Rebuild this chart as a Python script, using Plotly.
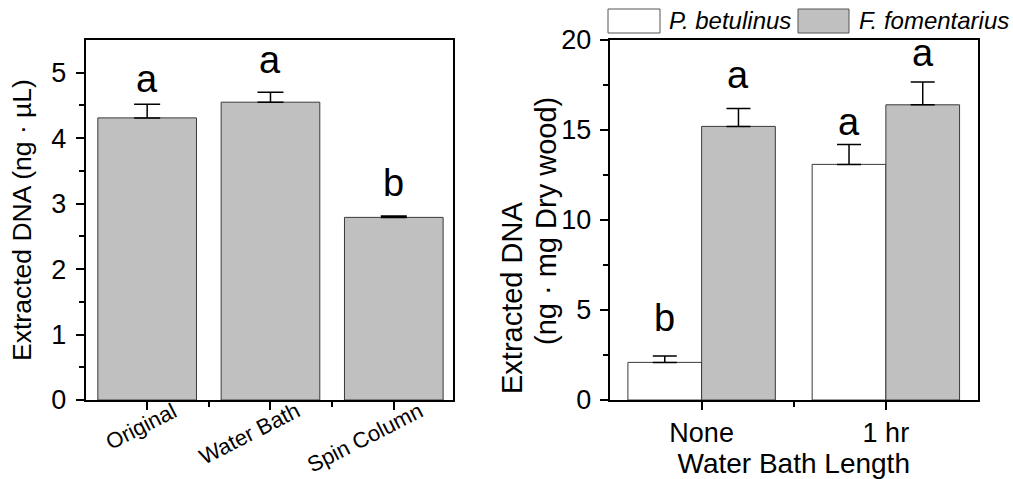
import plotly.graph_objects as go

# ---- data ----
methods = ["Original", "Water Bath", "Spin Column"]
dna_conc = [4.31, 4.55, 2.79]
dna_conc_err = [0.21, 0.15, 0.02]
conc_letters = ["a", "a", "b"]

bath_lengths = ["None", "1 hr"]
species = ["P. betulinus", "F. fomentarius"]
dna_yield = {
    "P. betulinus": [2.09, 13.09],
    "F. fomentarius": [15.2, 16.4],
}
dna_yield_err = {
    "P. betulinus": [0.35, 1.1],
    "F. fomentarius": [1.0, 1.27],
}
yield_letters = {
    "P. betulinus": ["b", "a"],
    "F. fomentarius": ["a", "a"],
}

# ---- styling ----
FONT = "Liberation Sans, Arial, sans-serif"
W, H = 1013, 479
GRAY = "#c0c0c0"
EDGE = "#3a3a3a"
fill = {"P. betulinus": "white", "F. fomentarius": GRAY}
LETTER_SIZE = 38
# pixel gap between the error cap and the significance letter
conc_gap = [11, 18, 19]
yield_gap = {"P. betulinus": [24, 9], "F. fomentarius": [19, 15]}

def px_x(p):
    return p / W

def px_y(p):
    return 1 - p / H

fig = go.Figure()

err_style = dict(type="data", symmetric=False, thickness=1.5, color="black")

# left panel: DNA concentration by extraction method
fig.add_trace(go.Bar(
    x=list(range(len(methods))), y=dna_conc,
    marker=dict(color=GRAY, line=dict(color=EDGE, width=1)),
    error_y=dict(array=dna_conc_err, arrayminus=[0] * len(methods), width=13, **err_style),
    xaxis="x", yaxis="y", showlegend=False,
))

# right panel: DNA yield by species and bath length
for sp in species:
    fig.add_trace(go.Bar(
        name=sp, x=list(range(len(bath_lengths))), y=dna_yield[sp],
        marker=dict(color=fill[sp], line=dict(color=EDGE, width=1)),
        error_y=dict(array=dna_yield_err[sp], arrayminus=[0] * len(bath_lengths), width=12, **err_style),
        xaxis="x2", yaxis="y2", offsetgroup=sp, showlegend=False,
    ))

descent = 0.212 * LETTER_SIZE + 1
annotations = []
for i, (v, e, t) in enumerate(zip(dna_conc, dna_conc_err, conc_letters)):
    annotations.append(dict(x=i, y=v + e, xref="x", yref="y", text=t, showarrow=False,
                            yanchor="bottom", yshift=conc_gap[i] - descent,
                            font=dict(family=FONT, size=LETTER_SIZE, color="black")))
offsets = {"P. betulinus": -0.2, "F. fomentarius": 0.2}
for sp in species:
    for i, (v, e, t) in enumerate(zip(dna_yield[sp], dna_yield_err[sp], yield_letters[sp])):
        annotations.append(dict(x=i + offsets[sp], y=v + e, xref="x2", yref="y2", text=t,
                                showarrow=False, yanchor="bottom", yshift=yield_gap[sp][i] - descent,
                                font=dict(family=FONT, size=LETTER_SIZE, color="black")))

# rotated method labels
for i, m in enumerate(methods):
    annotations.append(dict(x=i, y=px_y(395), xref="x", yref="paper", text=m, showarrow=False,
                            textangle=-27, xanchor="right", yanchor="top", xshift=36,
                            font=dict(family=FONT, size=22, color="black")))

# two-line y title of the right panel, one annotation per line
right_title = [("Extracted DNA", 512, 298), ("(ng · mg Dry wood)", 546, 221)]
for txt, cx, cy in right_title:
    annotations.append(dict(x=px_x(cx), y=px_y(cy), xref="paper", yref="paper", text=txt,
                            showarrow=False, textangle=-90, xanchor="center", yanchor="middle",
                            font=dict(family=FONT, size=29, color="black")))

# legend drawn above the right panel
legend_boxes = [(608, 660), (798, 849)]
legend_text_x = [667, 857]
shapes = []
for sp, (x0, x1), tx in zip(species, legend_boxes, legend_text_x):
    shapes.append(dict(type="rect", xref="paper", yref="paper",
                       x0=px_x(x0), x1=px_x(x1), y0=px_y(33), y1=px_y(9),
                       fillcolor=fill[sp], line=dict(color="#555555", width=1)))
    annotations.append(dict(x=px_x(tx), y=px_y(21), xref="paper", yref="paper",
                            text=f"<i>{sp}</i>", showarrow=False, xanchor="left", yanchor="middle",
                            font=dict(family=FONT, size=24, color="black")))

axis_common = dict(showline=True, linecolor="black", linewidth=1.5, mirror=True,
                   ticks="outside", tickcolor="black", tickwidth=1.5, ticklen=8,
                   showgrid=False, zeroline=False, automargin=False,
                   tickfont=dict(family=FONT, size=27, color="black"))

ydom = [px_y(400), px_y(40)]

fig.update_layout(
    width=W, height=H,
    margin=dict(l=0, r=0, t=0, b=0),
    paper_bgcolor="white", plot_bgcolor="white",
    barmode="group", bargap=0.2, bargroupgap=0,
    showlegend=False,
    annotations=annotations, shapes=shapes,
    xaxis=dict(domain=[px_x(85.5), px_x(453)], range=[-0.5, 2.48],
               tickvals=list(range(len(methods))), showticklabels=False,
               minor=dict(tickvals=[0.5, 1.5], ticks="outside", ticklen=5, tickwidth=1.5, tickcolor="black"),
               anchor="y", **axis_common),
    yaxis=dict(domain=ydom, range=[0, 5.5], tickvals=[0, 1, 2, 3, 4, 5],
               minor=dict(tickvals=[0.5, 1.5, 2.5, 3.5, 4.5], ticks="outside", ticklen=5, tickwidth=1.5, tickcolor="black"),
               ticklabelstandoff=4,
               title=dict(text="Extracted DNA (ng · µL)", standoff=12,
                          font=dict(family=FONT, size=26.5, color="black")),
               anchor="x", **axis_common),
    xaxis2=dict(domain=[px_x(609.5), px_x(978)], range=[-0.5, 1.5],
                tickvals=list(range(len(bath_lengths))), ticktext=bath_lengths,
                minor=dict(tickvals=[0.5], ticks="outside", ticklen=5, tickwidth=1.5, tickcolor="black"),
                title=dict(text="Water Bath Length", standoff=4,
                           font=dict(family=FONT, size=28, color="black")),
                anchor="y2", **axis_common),
    yaxis2=dict(domain=ydom, range=[0, 20], tickvals=[0, 5, 10, 15, 20],
                minor=dict(tickvals=[2.5, 7.5, 12.5, 17.5], ticks="outside", ticklen=5, tickwidth=1.5, tickcolor="black"),
                ticklabelstandoff=3,
                anchor="x2", **axis_common),
)

fig.write_html("out.html")
